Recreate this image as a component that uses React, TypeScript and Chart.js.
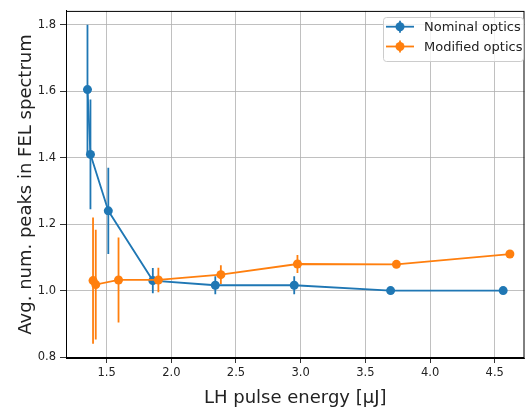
import React, { useEffect, useRef } from "react";
import { Chart, registerables } from "chart.js";

Chart.register(...registerables);

const nominalX = [1.352, 1.375, 1.513, 1.857, 2.34, 2.95, 3.695, 4.565];
const nominalY = [1.605, 1.41, 1.24, 1.03, 1.016, 1.016, 1.0, 1.0];
const nominalErr = [0.195, 0.165, 0.13, 0.038, 0.027, 0.027, 0, 0];

const modifiedX = [1.395, 1.416, 1.592, 1.9, 2.383, 2.975, 3.74, 4.617];
const modifiedY = [1.03, 1.018, 1.032, 1.032, 1.048, 1.08, 1.079, 1.11];
const modifiedErr = [0.19, 0.165, 0.128, 0.037, 0.028, 0.027, 0, 0];

const xTicks = [1.5, 2.0, 2.5, 3.0, 3.5, 4.0, 4.5];
const yTicks = [0.8, 1.0, 1.2, 1.4, 1.6, 1.8];

const seriesNames = ["Nominal optics", "Modified optics"];
const BLUE = "#1f77b4";
const ORANGE = "#ff7f0e";
const FONT = "'DejaVu Sans', sans-serif";
const LW = 1.8;

const errs = [nominalErr, modifiedErr];

const customPlugin = {
  id: "custom",
  beforeDatasetDraw(chart: any, args: any) {
    const ds = chart.data.datasets[args.index];
    const err = errs[args.index];
    const xs = chart.scales.x;
    const ys = chart.scales.y;
    const ctx = chart.ctx;
    const area = chart.chartArea;
    ctx.save();
    ctx.beginPath();
    ctx.rect(area.left, area.top, area.right - area.left, area.bottom - area.top);
    ctx.clip();
    ctx.strokeStyle = ds.borderColor;
    ctx.lineWidth = LW;
    ds.data.forEach((p: any, i: number) => {
      const e = err[i];
      if (!e) return;
      const px = xs.getPixelForValue(p.x);
      ctx.beginPath();
      ctx.moveTo(px, ys.getPixelForValue(p.y - e));
      ctx.lineTo(px, ys.getPixelForValue(p.y + e));
      ctx.stroke();
    });
    ctx.restore();
  },
  afterDraw(chart: any) {
    const ctx = chart.ctx;
    const a = chart.chartArea;
    ctx.save();
    ctx.strokeStyle = "#000";
    ctx.lineWidth = 1;
    ctx.strokeRect(a.left + 0.5, a.top + 0.5, a.right - a.left - 1, a.bottom - a.top - 1);
    // legend
    const bx = 383, by = 17, bw = 140, bh = 44;
    ctx.fillStyle = "rgba(255,255,255,0.8)";
    ctx.strokeStyle = "#cccccc";
    ctx.lineWidth = 1;
    ctx.beginPath();
    (ctx as any).roundRect(bx + 0.5, by + 0.5, bw, bh, 3);
    ctx.fill();
    ctx.stroke();
    const colors = [BLUE, ORANGE];
    const rows = [26.7, 46.5];
    ctx.font = `13px ${FONT}`;
    ctx.textBaseline = "middle";
    ctx.textAlign = "left";
    rows.forEach((ry, i) => {
      ctx.strokeStyle = colors[i];
      ctx.fillStyle = colors[i];
      ctx.lineWidth = LW;
      ctx.beginPath();
      ctx.moveTo(386, ry);
      ctx.lineTo(414, ry);
      ctx.stroke();
      ctx.beginPath();
      ctx.moveTo(400, ry - 6);
      ctx.lineTo(400, ry + 6);
      ctx.stroke();
      ctx.beginPath();
      ctx.arc(400, ry, 4.5, 0, Math.PI * 2);
      ctx.fill();
      ctx.fillStyle = "#222";
      ctx.fillText(seriesNames[i], 424, ry + 1);
    });
    ctx.restore();
  },
};

export default function App() {
  const ref = useRef<HTMLCanvasElement>(null);
  useEffect(() => {
    document.body.style.margin = "0";
    const chart = new Chart(ref.current!, {
      type: "scatter",
      data: {
        datasets: [
          {
            label: seriesNames[0],
            data: nominalX.map((x, i) => ({ x, y: nominalY[i] })),
            borderColor: BLUE,
            backgroundColor: BLUE,
            showLine: true,
            borderWidth: LW,
            pointRadius: 4.5,
            pointBorderWidth: 0,
            order: 2,
          },
          {
            label: seriesNames[1],
            data: modifiedX.map((x, i) => ({ x, y: modifiedY[i] })),
            borderColor: ORANGE,
            backgroundColor: ORANGE,
            showLine: true,
            borderWidth: LW,
            pointRadius: 4.5,
            pointBorderWidth: 0,
            order: 1,
          },
        ],
      },
      options: {
        animation: false,
        responsive: false,
        layout: { padding: { top: 10, right: 1, left: 0, bottom: 0 } },
        plugins: { legend: { display: false }, tooltip: { enabled: false } },
        scales: {
          x: {
            type: "linear",
            min: 1.186,
            max: 4.73,
            afterBuildTicks: (s: any) => {
              s.ticks = xTicks.map((v) => ({ value: v }));
            },
            afterFit: (s: any) => {
              s.height = 49;
            },
            ticks: {
              color: "#222",
              font: { family: FONT, size: 11.5 },
              padding: 3,
              maxRotation: 0,
              callback: (v: any) => Number(v).toFixed(1),
            },
            grid: { color: "#b0b0b0", lineWidth: 0.8, tickColor: "#000", tickLength: 5 },
            border: { color: "#000", width: 1 },
            title: {
              display: true,
              text: "LH pulse energy [μJ]",
              color: "#222",
              font: { family: FONT, size: 18, lineHeight: 1 },
              padding: { top: 4, bottom: 0 },
            },
          },
          y: {
            type: "linear",
            min: 0.797,
            max: 1.842,
            afterBuildTicks: (s: any) => {
              s.ticks = yTicks.map((v) => ({ value: v }));
            },
            afterFit: (s: any) => {
              s.width = 66;
            },
            ticks: {
              color: "#222",
              font: { family: FONT, size: 11.5 },
              padding: 4,
              callback: (v: any) => Number(v).toFixed(1),
            },
            grid: { color: "#b0b0b0", lineWidth: 0.8, tickColor: "#000", tickLength: 6 },
            border: { color: "#000", width: 1 },
            title: {
              display: true,
              text: "Avg. num. peaks in FEL spectrum",
              color: "#222",
              font: { family: FONT, size: 18, lineHeight: 1 },
              padding: { top: 17, bottom: 4 },
            },
          },
        },
      },
      plugins: [customPlugin],
    } as any);
    return () => chart.destroy();
  }, []);
  return (
    <div style={{ position: "absolute", left: 0, top: 0, width: 529, height: 407 }}>
      <canvas ref={ref} width={529} height={407} />
    </div>
  );
}
